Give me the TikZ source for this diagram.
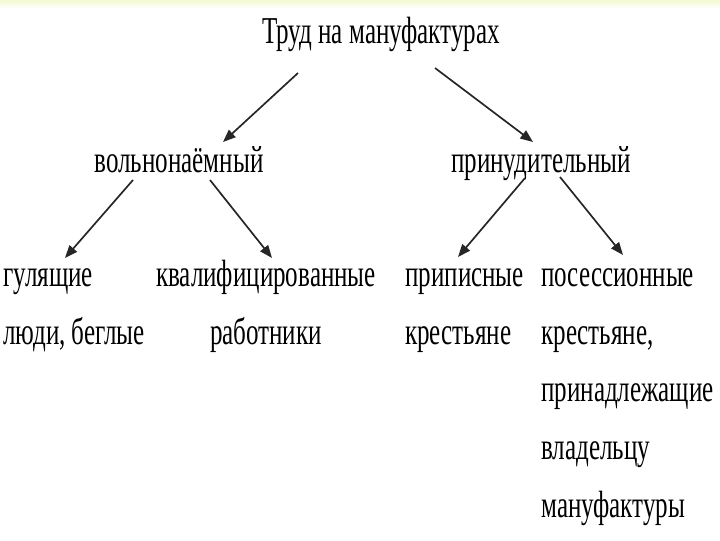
\documentclass[tikz,border=0pt]{standalone}
\usepackage{fontspec}
\setmainfont[FakeStretch=0.66]{Liberation Serif}
\usepackage{xcolor}
\usetikzlibrary{arrows.meta, calc}
\definecolor{bandyellow}{RGB}{244,250,210}

\begin{document}
\begin{tikzpicture}[x=0.025cm, y=-0.025cm,
        lbl/.style={inner sep=0pt, font=\fontsize{27}{41}\selectfont},
        arrowline/.style={-{Triangle[length=9pt, width=7pt]}, line width=1.2pt, black!85}
    ]
        \useasboundingbox (0,0) rectangle (720,540);
        \fill[top color=bandyellow, bottom color=white, draw=none] (0,0) rectangle (720,9);
        \node[lbl, anchor=base] (trud) at (381,43) {Труд на мануфактурах};
        \node[lbl, anchor=base] (volno) at (179,172) {вольнонаёмный};
        \node[lbl, anchor=base] (prinud) at (541,172) {принудительный};
        % base of a multi-line node is its last line
        \node[lbl, anchor=base west, align=left] (gul) at (3,344) {гулящие\\люди, беглые};
        \node[lbl, anchor=base, align=center] (kval) at (266,344) {квалифицированные\\работники};
        \node[lbl, anchor=base west, align=left] (pripis) at (405,344) {приписные\\крестьяне};
        \node[lbl, anchor=base west, align=left] (posess) at (541,517) {посессионные\\крестьяне,\\принадлежащие\\владельцу\\мануфактуры};
        \draw[arrowline] ($(trud.base)+(-83,30)$) -- ($(volno.base)+(44,-30)$);
        \draw[arrowline] ($(trud.base)+(54,25)$) -- ($(prinud.base)+(-8,-30)$);
        \draw[arrowline] ($(volno.base)+(-46,8)$) -- ($(gul.base west)+(62,-86)$);
        \draw[arrowline] ($(volno.base)+(31,8)$) -- ($(kval.base)+(6,-86)$);
        \draw[arrowline] ($(prinud.base)+(-16,6)$) -- ($(pripis.base west)+(53,-87)$);
        \draw[arrowline] ($(prinud.base)+(19,5)$) -- ($(posess.base west)+(82,-262)$);
    \end{tikzpicture}
\end{document}
